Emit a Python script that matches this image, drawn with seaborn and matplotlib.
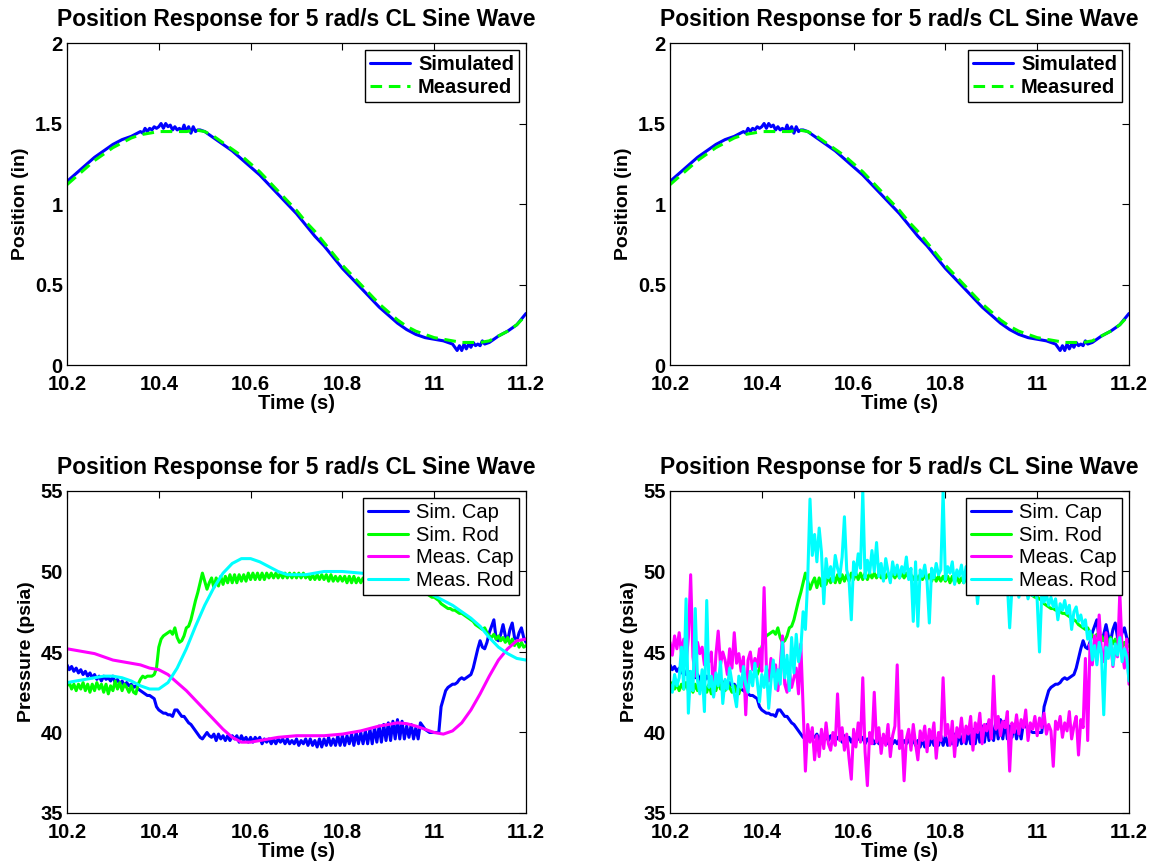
import numpy as np
import pandas as pd
import matplotlib
matplotlib.use("Agg")
import matplotlib.pyplot as plt
import seaborn as sns

# ---------------- data ----------------
title_text = "Position Response for 5 rad/s CL Sine Wave"
xlabel_text = "Time (s)"
pos_ylabel = "Position (in)"
prs_ylabel = "Pressure (psia)"
pos_labels = ["Simulated", "Measured"]
prs_labels = ["Sim. Cap", "Sim. Rod", "Meas. Cap", "Meas. Rod"]
x_ticks = [10.2, 10.4, 10.6, 10.8, 11.0, 11.2]
x_ticklabels = ["10.2", "10.4", "10.6", "10.8", "11", "11.2"]
pos_yticks = [0, 0.5, 1, 1.5, 2]
pos_yticklabels = ["0", "0.5", "1", "1.5", "2"]
prs_yticks = [35, 40, 45, 50, 55]

# Simulated position
pos_sim_t = [10.20, 10.22, 10.24, 10.26, 10.28, 10.30, 10.32, 10.34, 10.36, 10.365,
             10.37, 10.375, 10.38, 10.385, 10.39, 10.395, 10.40, 10.405, 10.41, 10.415,
             10.42, 10.425, 10.43, 10.435, 10.44, 10.445, 10.45, 10.455, 10.46, 10.465,
             10.47, 10.475, 10.48, 10.485, 10.49, 10.50, 10.52, 10.54, 10.56, 10.58,
             10.60, 10.62, 10.64, 10.66, 10.68, 10.70, 10.72, 10.74, 10.76, 10.78,
             10.80, 10.82, 10.84, 10.86, 10.88, 10.90, 10.92, 10.94, 10.96, 10.98,
             11.00, 11.02, 11.04, 11.045, 11.05, 11.055, 11.06, 11.065, 11.07, 11.075,
             11.08, 11.085, 11.09, 11.095, 11.10, 11.105, 11.11, 11.12, 11.14, 11.16,
             11.18, 11.20]
pos_sim = [1.14, 1.19, 1.24, 1.29, 1.33, 1.37, 1.40, 1.42, 1.45, 1.44,
           1.47, 1.45, 1.47, 1.46, 1.48, 1.47, 1.48, 1.50, 1.47, 1.50,
           1.48, 1.49, 1.46, 1.48, 1.46, 1.47, 1.45, 1.49, 1.45, 1.48,
           1.44, 1.48, 1.45, 1.46, 1.46, 1.45, 1.41, 1.37, 1.33, 1.28,
           1.23, 1.18, 1.12, 1.06, 1.00, 0.94, 0.87, 0.80, 0.74, 0.67,
           0.60, 0.54, 0.48, 0.42, 0.36, 0.31, 0.26, 0.22, 0.19, 0.17,
           0.16, 0.15, 0.13, 0.11, 0.09, 0.12, 0.09, 0.13, 0.10, 0.13,
           0.11, 0.14, 0.12, 0.13, 0.12, 0.15, 0.13, 0.14, 0.18, 0.21,
           0.25, 0.32]

# Measured position
pos_meas_t = [10.20, 10.22, 10.24, 10.26, 10.28, 10.30, 10.32, 10.34, 10.36, 10.38,
              10.40, 10.42, 10.44, 10.46, 10.48, 10.50, 10.52, 10.54, 10.56, 10.58,
              10.60, 10.62, 10.64, 10.66, 10.68, 10.70, 10.72, 10.74, 10.76, 10.78,
              10.80, 10.82, 10.84, 10.86, 10.88, 10.90, 10.92, 10.94, 10.96, 10.98,
              11.00, 11.02, 11.04, 11.06, 11.08, 11.10, 11.12, 11.14, 11.16, 11.18,
              11.20]
pos_meas = [1.12, 1.17, 1.22, 1.27, 1.31, 1.35, 1.38, 1.41, 1.43, 1.44,
            1.45, 1.45, 1.45, 1.45, 1.46, 1.45, 1.42, 1.38, 1.34, 1.30,
            1.25, 1.20, 1.14, 1.08, 1.02, 0.96, 0.89, 0.83, 0.76, 0.69,
            0.62, 0.56, 0.50, 0.44, 0.38, 0.33, 0.28, 0.24, 0.21, 0.19,
            0.17, 0.16, 0.15, 0.14, 0.14, 0.14, 0.15, 0.18, 0.21, 0.25,
            0.31]

# fine time base (5 ms samples) for the pressure records
t_fine = np.round(np.linspace(10.2, 11.2, 201), 3)

sim_cap = [44.2, 43.9, 44.1, 43.8, 44.0, 43.7, 43.9, 43.6, 43.8, 43.5,
           43.7, 43.4, 43.6, 43.3, 43.5, 43.2, 43.5, 43.3, 43.4, 43.2,
           43.5, 43.1, 43.3, 43.0, 43.2, 42.9, 43.1, 42.9, 43.0, 42.8,
           42.9, 42.7, 42.6, 42.5, 42.4, 42.3, 42.3, 42.2, 42.1, 41.6,
           41.4, 41.3, 41.2, 41.2, 41.1, 41.1, 41.0, 41.4, 41.4, 41.2,
           41.0, 41.0, 40.8, 40.6, 40.5, 40.3, 40.1, 39.9, 39.7, 39.6,
           39.8, 40.0, 39.8, 39.7, 39.9, 39.5, 39.9, 39.6, 39.8, 39.5,
           39.8, 39.5, 39.8, 39.6, 39.8, 39.4, 39.8, 39.5, 39.7, 39.4,
           39.7, 39.4, 39.7, 39.5, 39.7, 39.3, 39.6, 39.4, 39.6, 39.3,
           39.6, 39.3, 39.6, 39.4, 39.6, 39.3, 39.6, 39.3, 39.5, 39.3,
           39.6, 39.2, 39.5, 39.3, 39.6, 39.2, 39.6, 39.2, 39.5, 39.1,
           39.6, 39.1, 39.6, 39.2, 39.7, 39.2, 39.6, 39.2, 39.8, 39.2,
           39.8, 39.2, 39.8, 39.3, 39.9, 39.2, 40.0, 39.3, 40.0, 39.3,
           40.1, 39.3, 40.2, 39.3, 40.3, 39.4, 40.4, 39.4, 40.5, 39.5,
           40.6, 39.5, 40.7, 39.6, 40.8, 39.6, 40.7, 39.6, 40.4, 39.7,
           40.5, 39.6, 40.3, 39.6, 40.6, 40.4, 40.2, 40.1, 40.0, 40.0,
           40.0, 40.0, 40.0, 41.6, 42.1, 42.6, 42.8, 42.9, 43.0, 43.0,
           43.1, 43.3, 43.4, 43.3, 43.4, 43.5, 43.6, 44.0, 44.6, 45.2,
           45.7, 45.3, 45.2, 45.6, 46.2, 46.6, 47.0, 45.8, 45.7, 46.1,
           46.7, 46.0, 45.7, 46.4, 46.8, 45.9, 45.7, 46.2, 46.5, 45.9,
           45.6]

sim_rod = [42.9, 43.1, 42.7, 43.0, 42.6, 43.0, 42.7, 43.1, 42.6, 43.0,
           42.5, 43.0, 42.6, 43.1, 42.7, 43.0, 42.5, 43.0, 42.4, 42.9,
           42.6, 43.2, 42.7, 43.1, 42.6, 43.0, 42.8, 42.5, 42.9, 42.5,
           42.4, 43.0, 43.3, 43.5, 43.4, 43.5, 43.5, 43.5, 43.6, 44.0,
           45.3, 45.8, 46.0, 46.1, 46.2, 46.3, 46.1, 46.5, 45.9, 45.6,
           45.7, 46.0, 46.5, 46.6, 47.0, 47.6, 48.2, 48.7, 49.3, 49.9,
           49.4, 48.9, 49.3, 49.6, 49.0, 49.6, 49.1, 49.7, 49.2, 49.7,
           49.3, 49.8, 49.3, 49.8, 49.3, 49.8, 49.4, 49.8, 49.4, 49.9,
           49.5, 49.9, 49.5, 49.9, 49.5, 49.9, 49.5, 49.9, 49.6, 49.9,
           49.6, 49.9, 49.6, 49.9, 49.6, 49.9, 49.6, 49.9, 49.6, 49.9,
           49.6, 49.9, 49.6, 49.9, 49.6, 49.8, 49.5, 49.8, 49.5, 49.8,
           49.5, 49.8, 49.5, 49.8, 49.4, 49.8, 49.4, 49.7, 49.4, 49.7,
           49.4, 49.7, 49.3, 49.7, 49.3, 49.7, 49.3, 49.6, 49.3, 49.6,
           49.3, 49.6, 49.2, 49.6, 49.2, 49.5, 49.2, 49.5, 49.2, 49.5,
           49.2, 49.4, 49.1, 49.4, 49.0, 49.3, 49.0, 49.2, 48.9, 49.1,
           48.9, 49.0, 48.8, 48.9, 48.7, 48.7, 48.6, 48.6, 48.5, 48.4,
           48.4, 48.3, 48.2, 48.0, 47.9, 47.8, 47.7, 47.7, 47.6, 47.6,
           47.5, 47.4, 47.4, 47.3, 47.2, 47.1, 47.0, 46.9, 46.7, 46.6,
           46.5, 46.4, 46.5, 46.2, 46.0, 45.9, 46.1, 45.8, 46.0, 45.7,
           45.9, 45.6, 45.9, 45.5, 45.8, 45.4, 45.7, 45.3, 45.6, 45.3,
           45.4]

# filtered measured pressures (20 ms samples)
meas_f_t = pos_meas_t
meas_cap_f = [45.2, 45.1, 45.0, 44.9, 44.7, 44.5, 44.4, 44.3, 44.2, 44.0,
              43.9, 43.6, 43.1, 42.6, 42.0, 41.4, 40.8, 40.2, 39.7, 39.4,
              39.4, 39.5, 39.6, 39.7, 39.75, 39.8, 39.8, 39.8, 39.8, 39.85,
              39.9, 40.0, 40.1, 40.25, 40.4, 40.5, 40.6, 40.55, 40.4, 40.2,
              40.0, 39.9, 40.1, 40.6, 41.4, 42.4, 43.5, 44.5, 45.2, 45.7,
              45.8]
meas_rod_f = [43.1, 43.2, 43.3, 43.4, 43.5, 43.5, 43.4, 43.2, 42.9, 42.7,
              42.7, 43.1, 44.0, 45.2, 46.6, 47.9, 49.0, 49.9, 50.5, 50.8,
              50.8, 50.6, 50.3, 50.0, 49.8, 49.8, 49.8, 49.9, 50.0, 50.0,
              50.0, 49.95, 49.9, 49.85, 49.8, 49.7, 49.5, 49.3, 49.1, 48.8,
              48.5, 48.2, 47.9, 47.5, 47.1, 46.6, 45.9, 45.3, 44.9, 44.6,
              44.5]

# raw measured pressures (5 ms samples)
meas_cap_raw = [45.6, 44.8, 46.0, 45.2, 46.2, 44.9, 45.8, 44.3, 45.9, 49.8,
                44.7, 43.5, 45.6, 44.9, 45.3, 44.2, 45.1, 44.4, 45.0, 42.3,
                44.8, 46.3, 44.2, 45.0, 44.5, 43.6, 45.2, 44.0, 46.2, 44.3,
                44.9, 43.8, 44.7, 41.1, 44.5, 45.0, 43.9, 44.6, 44.1, 45.2,
                43.8, 49.0, 44.0, 43.2, 44.6, 43.5, 44.2, 42.6, 44.1, 46.0,
                43.0, 42.5, 43.8, 42.8, 43.4, 44.0, 42.4, 45.5, 41.5, 37.6,
                40.5, 39.4, 40.3, 38.3, 39.8, 38.5, 40.2, 39.0, 40.6, 39.3,
                38.9, 40.0, 39.2, 42.4, 39.5, 40.3, 38.9, 39.9, 38.4, 37.1,
                40.2, 39.1, 40.6, 39.4, 43.4, 38.8, 36.7, 40.0, 39.3, 42.5,
                39.4, 40.3, 38.7, 39.9, 39.2, 40.5, 38.5, 39.8, 40.4, 44.2,
                39.0, 40.1, 37.0, 39.6, 40.2, 38.9, 40.5, 39.3, 38.3, 40.1,
                39.5, 40.4, 38.8, 40.2, 39.6, 40.6, 38.4, 40.0, 39.5, 43.4,
                39.8, 40.5, 39.2, 40.7, 38.5, 40.3, 39.7, 40.9, 39.4, 40.4,
                39.9, 41.0, 38.9, 40.6, 40.0, 41.2, 39.3, 40.5, 40.1, 40.8,
                39.6, 43.5, 40.2, 41.0, 39.8, 40.7, 40.3, 41.3, 37.6, 40.6,
                40.0, 41.1, 39.9, 40.8, 40.3, 41.4, 39.5, 40.6, 40.2, 41.0,
                39.8, 40.9, 40.3, 41.2, 39.9, 40.5, 40.1, 37.9, 40.7, 40.2,
                41.0, 39.7, 40.6, 40.1, 41.3, 39.6, 40.4, 41.0, 38.6, 40.8,
                40.3, 44.6, 39.5, 45.5, 44.2, 46.0, 44.5, 47.3, 45.0, 44.4,
                46.2, 44.8, 45.6, 44.1, 45.3, 44.7, 48.7, 45.1, 44.0, 45.8,
                43.0]
meas_rod_raw = [43.0, 42.5, 43.6, 42.9, 43.4, 45.3, 42.7, 48.3, 41.2, 43.8,
                42.6, 47.7, 43.2, 42.4, 43.9, 41.3, 48.2, 42.8, 43.5, 42.2,
                43.7, 42.9, 44.4, 41.8, 43.3, 42.7, 44.0, 43.1, 42.4, 41.6,
                43.5, 42.8, 44.1, 43.0, 42.5, 43.8, 42.9, 44.3, 43.2, 41.9,
                43.6, 42.8, 44.1, 41.5, 43.2, 44.5, 42.7, 43.9, 43.0, 45.6,
                43.4, 44.8, 42.6, 45.9, 43.7, 46.1, 44.4, 45.2, 47.5, 46.4,
                49.5, 54.5, 51.0, 52.3, 50.6, 52.7, 51.2, 48.0, 50.8, 49.6,
                50.3, 49.4, 51.0, 50.2, 49.7, 50.9, 53.4, 50.1, 49.5, 47.0,
                50.6, 49.8, 51.1, 50.2, 55.0, 49.6, 50.7, 49.9, 51.3, 50.0,
                51.8, 49.7, 50.5, 49.4, 50.8, 50.0, 49.3, 50.6, 49.8, 50.4,
                49.6, 50.3, 49.9, 50.9, 49.5, 50.2, 46.9, 50.6, 46.6, 50.1,
                49.7, 50.4, 49.4, 46.8, 50.2, 49.6, 50.5, 49.8, 50.1, 55.0,
                49.5, 50.3, 49.9, 50.6, 49.2, 50.1, 49.7, 50.4, 49.3, 50.3,
                49.6, 50.0, 49.1, 49.8, 48.0, 49.5, 50.1, 49.3, 49.9, 49.0,
                49.4, 48.6, 49.7, 49.0, 48.8, 49.5, 48.7, 49.2, 46.5, 49.0,
                48.6, 49.3, 48.4, 49.0, 48.7, 49.2, 48.3, 48.9, 48.5, 49.1,
                48.2, 45.0, 48.7, 48.1, 48.6, 47.9, 48.4, 47.8, 48.3, 47.0,
                48.0, 47.6, 48.2, 47.4, 47.9, 46.4, 47.5, 47.8, 46.9, 47.3,
                46.6, 47.0, 45.8, 46.3, 44.5, 45.4, 44.2, 45.6, 44.9, 41.1,
                45.3, 44.6, 45.8, 44.2, 45.5, 44.8, 45.9, 44.4, 45.2, 44.7,
                43.2]

# ---------------- styling ----------------
sns.set_style("white")
plt.rcParams["font.family"] = ["Liberation Sans", "DejaVu Sans"]
plt.rcParams["font.weight"] = "bold"
plt.rcParams["axes.labelweight"] = "bold"
plt.rcParams["axes.titleweight"] = "bold"
plt.rcParams["text.color"] = "black"
plt.rcParams["axes.labelcolor"] = "black"
plt.rcParams["xtick.color"] = "black"
plt.rcParams["ytick.color"] = "black"
plt.rcParams["axes.edgecolor"] = "black"

C_BLUE = "#0000ff"
C_GREEN = "#00ff00"
C_MAG = "#ff00ff"
C_CYAN = "#00ffff"
LW = 2.2

fig = plt.figure(figsize=(11.61, 8.63), dpi=100)
W, H = 1161, 863
def add_ax(x0, y0, x1, y1):
    return fig.add_axes([x0 / W, 1 - y1 / H, (x1 - x0) / W, (y1 - y0) / H])

ax_tl = add_ax(67, 43, 526, 365)
ax_tr = add_ax(670, 43, 1129, 365)
ax_bl = add_ax(67, 491, 526, 813)
ax_br = add_ax(670, 491, 1129, 813)


def style_axes(ax, yticks, yticklabels, ylabel):
    ax.set_xlim(10.2, 11.2)
    ax.set_ylim(yticks[0], yticks[-1])
    ax.set_xticks(x_ticks)
    ax.set_xticklabels(x_ticklabels)
    ax.set_yticks(yticks)
    ax.set_yticklabels(yticklabels)
    ax.tick_params(direction="in", length=5, width=0.8, top=True, right=True,
                   labelsize=14.5, colors="black")
    ax.tick_params(axis="x", pad=7)
    ax.tick_params(axis="y", pad=3)
    for lab in ax.get_xticklabels() + ax.get_yticklabels():
        lab.set_fontweight("bold")
    for sp in ax.spines.values():
        sp.set_visible(True)
        sp.set_color("black")
        sp.set_linewidth(0.9)
    ax.set_xlabel(xlabel_text, fontsize=14.5, fontweight="bold", labelpad=0,
                  color="black")
    ax.set_ylabel(ylabel, fontsize=14, fontweight="bold", labelpad=4,
                  color="black")
    ax.set_title(title_text, fontsize=16.5, fontweight="bold", pad=12,
                 color="black")


def legend(ax, bold):
    leg = ax.legend(loc="upper right", fancybox=False, framealpha=1,
                    edgecolor="black", borderaxespad=0.35, handlelength=2.0,
                    handletextpad=0.4, borderpad=0.25, labelspacing=0.18,
                    prop={"size": 14.5, "weight": "bold" if bold else "normal"})
    leg.get_frame().set_linewidth(1.0)
    for txt in leg.get_texts():
        txt.set_color("black")


for ax in (ax_tl, ax_tr):
    sns.lineplot(x=pos_sim_t, y=pos_sim, ax=ax, color=C_BLUE, lw=LW,
                 label=pos_labels[0], sort=False, estimator=None)
    sns.lineplot(x=pos_meas_t, y=pos_meas, ax=ax, color=C_GREEN, lw=LW,
                 label=pos_labels[1], sort=False, estimator=None,
                 dashes=False, linestyle=(0, (3.8, 2.2)))
    style_axes(ax, pos_yticks, pos_yticklabels, pos_ylabel)
    legend(ax, True)

sns.lineplot(x=t_fine, y=sim_cap, ax=ax_bl, color=C_BLUE, lw=LW, label=prs_labels[0],
             sort=False, estimator=None)
sns.lineplot(x=t_fine, y=sim_rod, ax=ax_bl, color=C_GREEN, lw=LW, label=prs_labels[1],
             sort=False, estimator=None)
sns.lineplot(x=meas_f_t, y=meas_cap_f, ax=ax_bl, color=C_MAG, lw=LW, label=prs_labels[2],
             sort=False, estimator=None)
sns.lineplot(x=meas_f_t, y=meas_rod_f, ax=ax_bl, color=C_CYAN, lw=LW, label=prs_labels[3],
             sort=False, estimator=None)
style_axes(ax_bl, prs_yticks, [str(v) for v in prs_yticks], prs_ylabel)
legend(ax_bl, False)

sns.lineplot(x=t_fine, y=sim_cap, ax=ax_br, color=C_BLUE, lw=LW, label=prs_labels[0],
             sort=False, estimator=None)
sns.lineplot(x=t_fine, y=sim_rod, ax=ax_br, color=C_GREEN, lw=LW, label=prs_labels[1],
             sort=False, estimator=None)
sns.lineplot(x=t_fine, y=meas_cap_raw, ax=ax_br, color=C_MAG, lw=LW, label=prs_labels[2],
             sort=False, estimator=None)
sns.lineplot(x=t_fine, y=meas_rod_raw, ax=ax_br, color=C_CYAN, lw=LW, label=prs_labels[3],
             sort=False, estimator=None)
style_axes(ax_br, prs_yticks, [str(v) for v in prs_yticks], prs_ylabel)
legend(ax_br, False)

fig.savefig("out.png", dpi=100, facecolor="white")
